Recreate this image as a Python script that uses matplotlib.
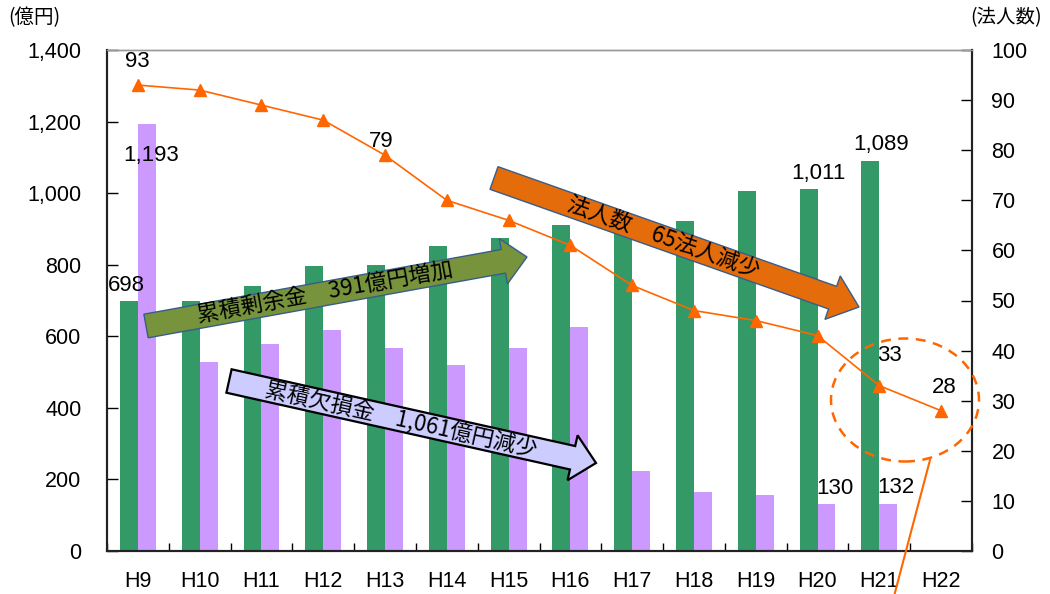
import numpy as np
import matplotlib
matplotlib.use("Agg")
import matplotlib.pyplot as plt
from matplotlib.patches import Polygon, Ellipse
from matplotlib.lines import Line2D

plt.rcParams['font.family'] = ['Liberation Sans', 'Noto Sans CJK JP', 'DejaVu Sans']
CJK = ['Noto Sans CJK JP', 'DejaVu Sans']

# ---- data ----
years = ["H9", "H10", "H11", "H12", "H13", "H14", "H15", "H16", "H17", "H18",
         "H19", "H20", "H21", "H22"]
surplus = [698, 700, 740, 796, 800, 852, 875, 911, 905, 922, 1006, 1011, 1089, np.nan]
deficit = [1193, 528, 578, 617, 567, 520, 568, 626, 224, 165, 156, 130, 132, np.nan]
corporations = [93, 92, 89, 86, 79, 70, 66, 61, 53, 48, 46, 43, 33, 28]

GREEN = "#339966"
PURPLE = "#CC99FF"
ORANGE = "#FF6600"

W, H = 1050, 594
fig = plt.figure(figsize=(W / 100, H / 100), dpi=100)
ax = fig.add_axes([107 / W, 1 - 551 / H, (972 - 107) / W, (551 - 50) / H])
ax2 = ax.twinx()

x = np.arange(len(years))
bw = 0.29
ax.bar(x - bw / 2, surplus, width=bw, color=GREEN, zorder=2)
ax.bar(x + bw / 2, deficit, width=bw, color=PURPLE, zorder=2)

ax.set_xlim(-0.5, len(years) - 0.5)
ax.set_ylim(0, 1400)
ax.set_yticks(np.arange(0, 1401, 200))
ax.set_yticklabels([f"{v:,}" for v in range(0, 1401, 200)])
ax.set_xticks(x)
ax.set_xticklabels(years)
ax.set_xticks(np.arange(-0.5, len(years), 1.0), minor=True)
ax.tick_params(axis='x', which='major', length=0, pad=14.5, labelsize=15.5)
ax.tick_params(axis='x', which='minor', direction='in', length=6, width=1)
ax.tick_params(axis='y', direction='in', length=8, width=1, pad=18.5, labelsize=15.5)

ax2.plot(x, corporations, color=ORANGE, lw=1.2, marker='^', markersize=8,
         markeredgecolor=ORANGE, zorder=3)
ax2.set_ylim(0, 100)
ax2.set_yticks(np.arange(0, 101, 10))
ax2.tick_params(axis='y', direction='in', length=8, width=1, pad=14, labelsize=15.5)

for a in (ax, ax2):
    a.spines['top'].set_color('#999999')
    a.spines['top'].set_linewidth(1)
    for s in ('left', 'right', 'bottom'):
        a.spines[s].set_color('#222222')
        a.spines[s].set_linewidth(1.5)
ax.set_zorder(1)
ax2.set_zorder(2)
ax2.patch.set_visible(False)

# value labels
def label(axis, xi, yi, text, dx, dy):
    axis.annotate(text, (xi, yi), xytext=(dx, dy), textcoords='offset pixels',
                  ha='center', va='center', fontsize=16, zorder=6)

label(ax, 0 - bw / 2, surplus[0], "698", -3, 16)
label(ax, 0 + bw / 2, deficit[0], "1,193", 4, -31)
label(ax, 11 - bw / 2, surplus[11], "1,011", 10, 16)
label(ax, 12 - bw / 2, surplus[12], "1,089", 11, 17)
label(ax, 11 + bw / 2, deficit[11], "130", 8, 16)
label(ax, 12 + bw / 2, deficit[12], "132", 8, 16)
label(ax2, 0, corporations[0], "93", -1, 24)
label(ax2, 4, corporations[4], "79", -4, 14)
label(ax2, 12, corporations[12], "33", 10, 30)
label(ax2, 13, corporations[13], "28", 3, 23)

# units
fig.text(8 / W, 1 - 18 / H, "(億円)", fontsize=14, family=CJK, ha='left', va='center')
fig.text(1042 / W, 1 - 18 / H, "(法人数)", fontsize=14, family=CJK, ha='right', va='center')


# ---- annotation arrows (pixel layout, y down) ----
def to_fig(pts):
    return [(px / W, 1 - py / H) for px, py in pts]


def arrow(tail, tip, w, hw, hl, face, edge, lw, text, fs):
    t = np.array(tail, float)
    p = np.array(tip, float)
    u = (p - t) / np.linalg.norm(p - t)
    n = np.array([-u[1], u[0]])
    b = p - u * hl
    pts = [t + n * w / 2, b + n * w / 2, b + n * hw / 2, p,
           b - n * hw / 2, b - n * w / 2, t - n * w / 2]
    fig.add_artist(Polygon(to_fig(pts), closed=True, facecolor=face,
                           edgecolor=edge, lw=lw, transform=fig.transFigure,
                           zorder=10))
    ang = -np.degrees(np.arctan2(p[1] - t[1], p[0] - t[0]))
    mid = t + (b - t) * 0.5
    fig.text(mid[0] / W, 1 - mid[1] / H, text, rotation=ang,
             rotation_mode='anchor', ha='center', va='center',
             fontsize=fs, family=CJK, zorder=11)


arrow((146, 326), (527, 257), 24, 46, 24, "#77933C", "#385D8A", 1.0,
      "累積剰余金　391億円増加", 16)
arrow((229, 381), (596, 463), 24, 46, 24, "#CCCCFF", "#000000", 1.6,
      "累積欠損金　1,061億円減少", 16)
arrow((494, 178), (859, 307), 24, 46, 28, "#E46C0A", "#385D8A", 1.0,
      "法人数　65法人減少", 16)

# highlight ring and pointer
cx, cy = 905, 400
fig.add_artist(Ellipse((cx / W, 1 - cy / H), 148 / W, 123 / H, fill=False,
                       edgecolor=ORANGE, lw=1.8, linestyle=(0, (4, 3)),
                       transform=fig.transFigure, zorder=9))
fig.add_artist(Line2D([930 / W, 893 / W], [1 - 460 / H, 1 - 600 / H],
                      color=ORANGE, lw=1.5, transform=fig.transFigure, zorder=9))

fig.savefig("out.png", dpi=100)
